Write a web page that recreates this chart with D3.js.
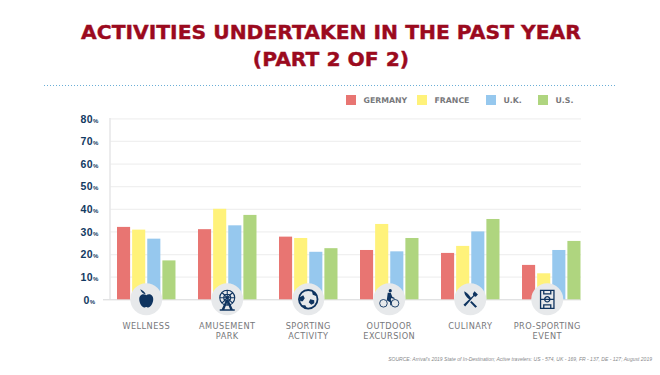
<!DOCTYPE html>
<html>
<head>
<meta charset="utf-8">
<script src="https://cdn.jsdelivr.net/npm/d3@7"></script>
<style>
    html, body { margin: 0; padding: 0; background: #fff; }
    svg { display: block; font-family: "DejaVu Sans", sans-serif; }
</style>
</head>
<body>
<div id="chart"></div>
<script>
/* Activities bar chart, part 2 of 2 */

const categories = ["WELLNESS", "AMUSEMENT PARK", "SPORTING ACTIVITY", "OUTDOOR EXCURSION", "CULINARY", "PRO-SPORTING EVENT"];
const countries = ["GERMANY", "FRANCE", "U.K.", "U.S."];
const germany = [32, 31, 27.7, 21.8, 20.5, 15.2];
const france = [30.8, 40, 27.1, 33.3, 23.6, 11.5];
const uk = [26.8, 32.7, 21, 21.2, 30, 21.8];
const us = [17.2, 37.3, 22.6, 27.1, 35.5, 25.8];
const yTicks = [0, 10, 20, 30, 40, 50, 60, 70, 80];
const colors = ["#e87572", "#fff27a", "#96c8ee", "#afd57f"];

const series = [germany, france, uk, us];

const width = 660,
      height = 375,
      navy = "#123a62",
      grey = "#77787b";

const svg = d3.select("#chart")
    .append("svg")
    .attr("width", width)
    .attr("height", height)
    .attr("viewBox", [0, 0, width, height]);

// title
svg.selectAll(".title")
    .data(["ACTIVITIES UNDERTAKEN IN THE PAST YEAR", "(PART 2 OF 2)"])
    .join("text")
    .attr("class", "title")
    .text(d => d)
    .attr("x", 331)
    .attr("y", (d, i) => 39 + i * 27)
    .attr("text-anchor", "middle")
    .attr("font-size", 20.3)
    .attr("font-weight", 700)
    .attr("fill", "#9b0a1e")
    .attr("stroke", "#9b0a1e")
    .attr("stroke-width", 0.4);

svg.append("line")
    .attr("x1", 44).attr("x2", 617)
    .attr("y1", 85.5).attr("y2", 85.5)
    .attr("stroke", "#6aaed6")
    .attr("stroke-width", 1)
    .attr("stroke-dasharray", "1 2");

// scales
let x = d3.scaleBand()
    .domain(categories)
    .range([117, 580.5])
    .paddingInner(0.278);

let xBar = d3.scaleBand()
    .domain(countries)
    .range([0, x.bandwidth()])
    .paddingInner(0.133);

let y = d3.scaleLinear()
    .domain([0, 80])
    .range([299.3, 118.3]);

// y axis with the gridlines drawn as long ticks
let yAxis = svg.append("g")
    .attr("transform", "translate(110,0)")
    .call(d3.axisLeft(y).tickValues(yTicks).tickSize(-471).tickPadding(0).tickFormat(d => d));

yAxis.select(".domain").remove();
yAxis.selectAll(".tick line")
    .attr("stroke", d => d === 0 ? "#d5d6d8" : "#f0f0f0")
    .attr("stroke-width", d => d === 0 ? 1 : 1.2)
    .attr("x1", d => d === 0 ? -7 : 0);

yAxis.selectAll(".tick text")
    .attr("x", -20.5)
    .attr("text-anchor", "middle")
    .attr("dy", "0.36em")
    .attr("fill", navy)
    .attr("font-size", 10.5)
    .attr("font-weight", 700)
    .attr("letter-spacing", 0.4)
    .text(d => d)
    .append("tspan")
    .attr("font-size", 6)
    .text("%");

svg.append("line")
    .attr("x1", 110).attr("x2", 110)
    .attr("y1", 118).attr("y2", 299)
    .attr("stroke", "#e8e8e9")
    .attr("stroke-width", 1.6);

// bars
let group = svg.selectAll(".group")
    .data(categories)
    .join("g")
    .attr("class", "group")
    .attr("transform", d => `translate(${x(d)},0)`);

group.selectAll("rect")
    .data((d, i) => series.map((s, j) => ({ country: countries[j], value: s[i], color: colors[j] })))
    .join("rect")
    .attr("x", d => xBar(d.country))
    .attr("width", xBar.bandwidth())
    .attr("y", d => y(d.value))
    .attr("height", d => y(0) - y(d.value))
    .attr("fill", d => d.color);

// icons, drawn around 0,0 inside the grey circles
const iconFill = [
    "M0,-4C-2,-6 -7,-5.5 -7,0C-7,4 -4,8.3 -2,8.3C-1,8.3 -0.5,7.6 0,7.6C0.5,7.6 1,8.3 2,8.3C4,8.3 7,4 7,0C7,-5.5 2,-6 0,-4ZM-0.5,-5C-2,-8 -4,-9 -6,-10C-5,-7 -3,-5.5 -0.5,-5Z",
    "M-1.2,0.5L-5.5,10H-7.5V11.5H7.5V10H5.5L1.2,0.5ZM0,3L2.8,10H-2.8Z",
    "M3.5,-9L8,-5.5L8.5,-3L4.5,-4.5ZM-8.5,-2L-5,-4L-3.5,-1L-5.5,2L-8,2ZM2,0L6,1L6,4L3,5.5L0.5,3ZM-7,6L-3,6L-1.5,8.5L-3.5,9.3Z",
    "M1,-10.2A1.6,1.6 0 1 1 1,-7A1.6,1.6 0 1 1 1,-10.2ZM-1.5,-6.5L1.5,-6.5L3,-2.5L5.5,-1.2L5,-0.2L2,-1.3L1.5,0.8L2.5,2.5L2.2,6H1L0.8,3L-2.5,1Z",
    "M5,-9.5L9,-5.5L6.5,-3L4.5,-3.5L-6,8.5L-8,6.5L3.5,-4.5L3,-6.5ZM-7,-9.5C-4,-8 -1,-5 1,-1.5L-0.8,0.3C-4,-2 -7,-5 -7,-9.5ZM1.5,2L8,8.5L6,10L-0.2,3.5Z",
    ""
];
const iconStroke = [
    "",
    "M-7.5,-1.5A7.5,7.5 0 1 1 7.5,-1.5A7.5,7.5 0 1 1 -7.5,-1.5ZM-3.5,-1.5A3.5,3.5 0 1 1 3.5,-1.5A3.5,3.5 0 1 1 -3.5,-1.5ZM0,-9V6M-7.5,-1.5H7.5M-5.3,-6.8L5.3,3.8M5.3,-6.8L-5.3,3.8",
    "M-9.3,0A9.3,9.3 0 1 1 9.3,0A9.3,9.3 0 1 1 -9.3,0Z",
    "M-9.6,4A3.8,3.8 0 1 1 -2,4A3.8,3.8 0 1 1 -9.6,4ZM2,4A3.8,3.8 0 1 1 9.6,4A3.8,3.8 0 1 1 2,4Z",
    "",
    "M-6.7,-9H6.7V9H-6.7ZM-6.7,0H6.7M-2.6,0A2.6,2.6 0 1 1 2.6,0A2.6,2.6 0 1 1 -2.6,0ZM-3.5,-9V-5.5H3.5V-9M-3.5,9V5.5H3.5V9"
];
const iconStrokeWidth = [0, 1.1, 1.8, 0.9, 0, 1.3];
const iconScale = [1, 1, 1, 1, 0.85, 1];

// the last icon and label sit a little left of their bars in the original
const center = (d, i) => x(d) + x.bandwidth() / 2 + (i === 5 ? -4 : 0);

let icon = svg.selectAll(".icon")
    .data(categories)
    .join("g")
    .attr("class", "icon")
    .attr("transform", (d, i) => `translate(${center(d, i)},${y(0)})`);

icon.append("circle")
    .attr("r", 16)
    .attr("fill", "#e7e9eb");

icon.append("path")
    .attr("d", (d, i) => iconFill[i])
    .attr("transform", (d, i) => `scale(${iconScale[i]})`)
    .attr("fill", "#0f3460");

icon.append("path")
    .attr("d", (d, i) => iconStroke[i])
    .attr("fill", "none")
    .attr("stroke", "#0f3460")
    .attr("stroke-width", (d, i) => iconStrokeWidth[i]);

// category labels, wrapped after the first word
svg.selectAll(".label")
    .data(categories)
    .join("text")
    .attr("class", "label")
    .attr("text-anchor", "middle")
    .attr("font-size", 8.2)
    .attr("letter-spacing", 0.45)
    .attr("fill", grey)
    .each(function (d, i) {
        d3.select(this).selectAll("tspan")
            .data(d.split(" "))
            .join("tspan")
            .attr("x", center(d, i))
            .attr("y", (w, k) => 329 + k * 10.3)
            .text(w => w);
    });

// legend
const legendX = [346, 417, 486, 538];

let legend = svg.selectAll(".legend")
    .data(countries)
    .join("g")
    .attr("class", "legend")
    .attr("transform", (d, i) => `translate(${legendX[i]},95)`);

legend.append("rect")
    .attr("width", 10)
    .attr("height", 10)
    .attr("fill", (d, i) => colors[i]);

legend.append("text")
    .text(d => d)
    .attr("x", 17.5)
    .attr("y", 8.2)
    .attr("font-size", 7.8)
    .attr("font-weight", 700)
    .attr("fill", grey);

// source, squeezed to the width of the condensed original
svg.append("text")
    .text("SOURCE: Arrival's 2019 State of In-Destination; Active travelers: US - 574, UK - 169, FR - 137, DE - 127; August 2019")
    .attr("transform", "translate(652,361) scale(0.84,1)")
    .attr("text-anchor", "end")
    .attr("font-family", "'Liberation Sans', sans-serif")
    .attr("font-size", 6)
    .attr("font-style", "italic")
    .attr("fill", "#88898b");
</script>
</body>
</html>
